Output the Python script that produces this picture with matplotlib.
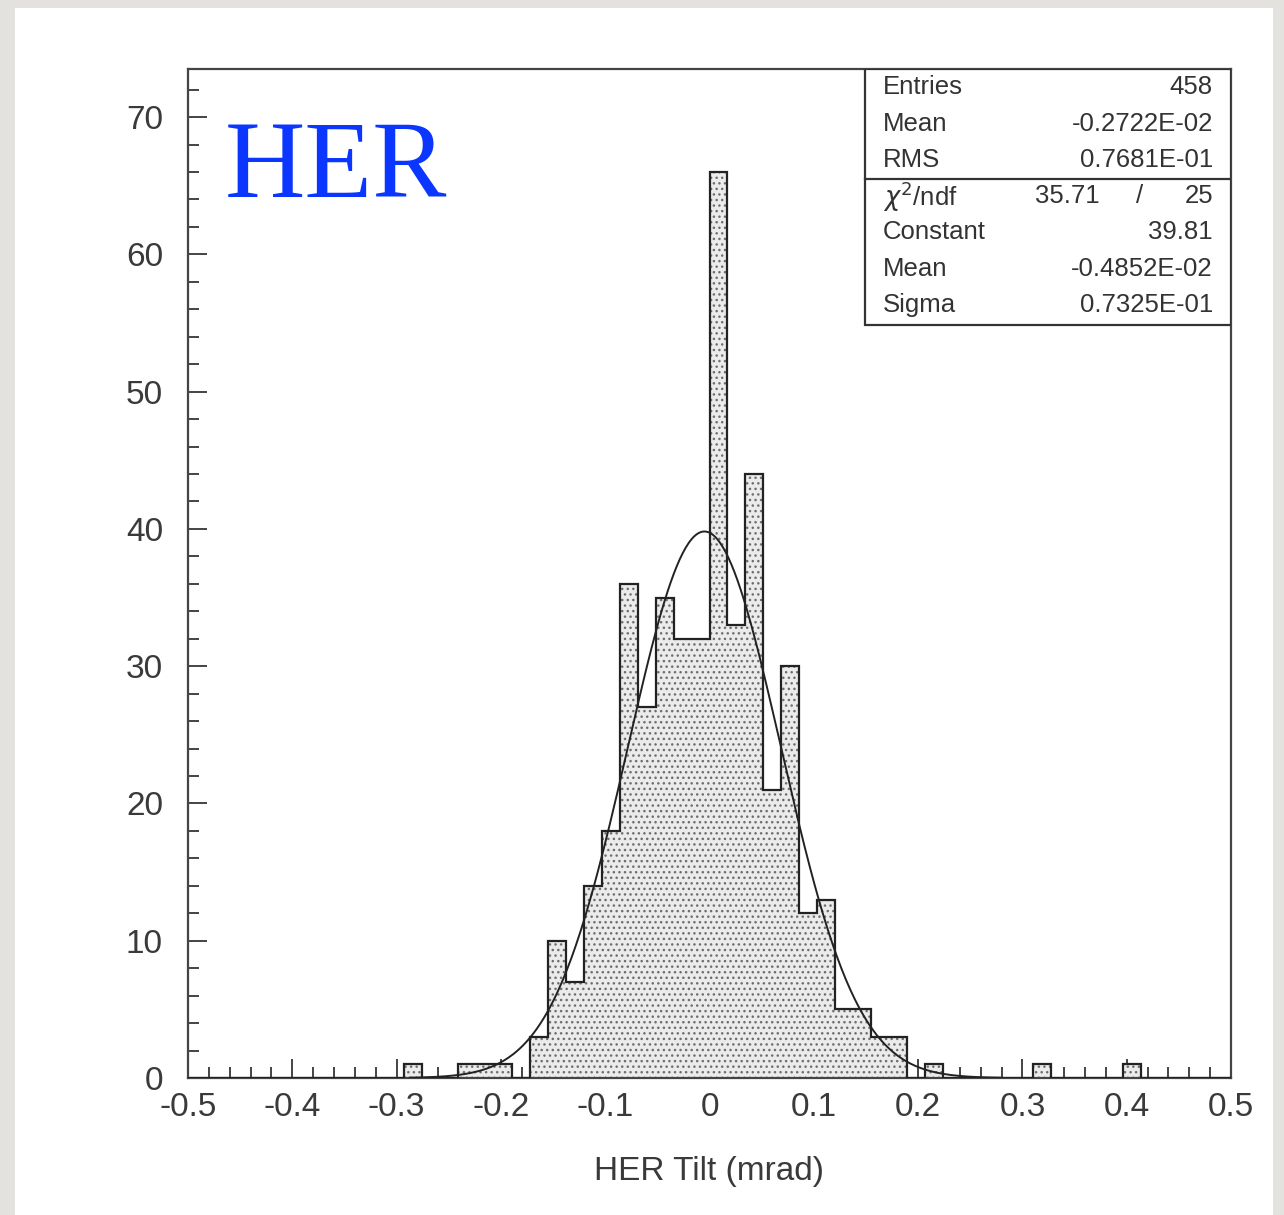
"""HER tilt histogram with gaussian fit, PAW-style."""
import numpy as np
import matplotlib
matplotlib.use("Agg")
import matplotlib.pyplot as plt
from matplotlib.patches import Rectangle
from matplotlib.ticker import MultipleLocator

# 58 bins over [-0.5, 0.5]
bin_edges = np.linspace(-0.5, 0.5, 59)
counts = [0] * 58
bin_values = {
    12: 1, 15: 1, 16: 1, 17: 1,
    19: 3, 20: 10, 21: 7, 22: 14, 23: 18, 24: 36, 25: 27, 26: 35, 27: 32, 28: 32,
    29: 66, 30: 33, 31: 44, 32: 21, 33: 30, 34: 12, 35: 13, 36: 5, 37: 5,
    38: 3, 39: 3, 41: 1, 47: 1, 52: 1,
}
for i, v in bin_values.items():
    counts[i] = v

# fit parameters from the stats box
fit_const = 39.81
fit_mean = -0.4852e-02
fit_sigma = 0.7325e-01
fit_range = (-0.2875, 0.28)

stats_top = [("Entries", "458"), ("Mean", "-0.2722E-02"), ("RMS", "0.7681E-01")]
stats_fit = [("Constant", "39.81"), ("Mean", "-0.4852E-02"), ("Sigma", "0.7325E-01")]

W, H = 1284, 1215
fig = plt.figure(figsize=(W / 100, H / 100), dpi=100, facecolor="#e4e2de")
fig.patches.append(Rectangle((15 / W, 0), (1273 - 15) / W, 1 - 8 / H,
                             transform=fig.transFigure, facecolor="white",
                             edgecolor="none", zorder=-5))

ax = fig.add_axes([188 / W, 1 - 1078 / H, (1231 - 188) / W, (1078 - 69) / H])
ax.set_zorder(2)
ax.set_facecolor("white")

plt.rcParams["hatch.linewidth"] = 1.0
ax.stairs(counts, bin_edges, fill=True, facecolor="#ebebeb", edgecolor="#6e6e6e",
          linewidth=0, hatch="...", zorder=2)
ax.stairs(counts, bin_edges, color="#222222", linewidth=1.6, zorder=3)

xf = np.linspace(fit_range[0], fit_range[1], 400)
yf = fit_const * np.exp(-0.5 * ((xf - fit_mean) / fit_sigma) ** 2)
ax.plot(xf, yf, color="#222222", linewidth=1.4, zorder=4)

ax.set_xlim(-0.5, 0.5)
ax.set_ylim(0, 73.5)
ax.xaxis.set_major_locator(MultipleLocator(0.1))
ax.xaxis.set_minor_locator(MultipleLocator(0.02))
ax.yaxis.set_major_locator(MultipleLocator(10))
ax.yaxis.set_minor_locator(MultipleLocator(2))
ax.tick_params(which="both", direction="in", color="#444444", width=1.4,
               top=False, right=False)
ax.tick_params(which="major", length=14, labelsize=24, labelcolor="#3a3a3a")
ax.tick_params(which="minor", length=8)
ax.tick_params(axis="x", which="major", pad=10)
ax.tick_params(axis="y", which="major", pad=18)
ax.set_xticks(np.round(np.arange(-0.5, 0.51, 0.1), 1))
ax.set_xticklabels(["-0.5", "-0.4", "-0.3", "-0.2", "-0.1", "0",
                    "0.1", "0.2", "0.3", "0.4", "0.5"], family="Liberation Sans")
for lab in ax.get_yticklabels():
    lab.set_family("Liberation Sans")
for sp in ax.spines.values():
    sp.set_color("#444444")
    sp.set_linewidth(1.6)

ax.set_xlabel("HER Tilt (mrad)", fontsize=24, color="#3a3a3a",
              family="Liberation Sans", labelpad=24)

ax.text(0.0355, 0.873, "HER", transform=ax.transAxes, fontsize=80,
        family="Liberation Serif", color="#0a36ff", ha="left", va="baseline")

# stats box
def ay(py):
    return (1078 - py) / 1009

box_l = (865 - 188) / 1043
ax.add_patch(Rectangle((box_l, ay(325)), 1 - box_l, ay(69) - ay(325),
                       transform=ax.transAxes, facecolor="white",
                       edgecolor="#333333", linewidth=1.6, zorder=6))
ax.plot([box_l, 1], [ay(179), ay(179)], transform=ax.transAxes,
        color="#333333", linewidth=1.6, zorder=7)

lab_x = (883 - 188) / 1043
val_x = (1213 - 188) / 1043
kw = dict(transform=ax.transAxes, fontsize=18.5, color="#333333",
          family="Liberation Sans", va="center", zorder=8)
for (name, val), py in zip(stats_top, [87, 124, 160]):
    ax.text(lab_x, ay(py), name, ha="left", **kw)
    ax.text(val_x, ay(py), val, ha="right", **kw)
ax.text(lab_x, ay(197), r"$\chi^2$/ndf", ha="left", **kw)
ax.text((1100 - 188) / 1043, ay(196), "35.71", ha="right", **kw)
ax.text((1140 - 188) / 1043, ay(196), "/", ha="center", **kw)
ax.text(val_x, ay(196), "25", ha="right", **kw)
for (name, val), py in zip(stats_fit, [232, 269, 305]):
    ax.text(lab_x, ay(py), name, ha="left", **kw)
    ax.text(val_x, ay(py), val, ha="right", **kw)

fig.savefig("out.png", dpi=100, facecolor=fig.get_facecolor())
